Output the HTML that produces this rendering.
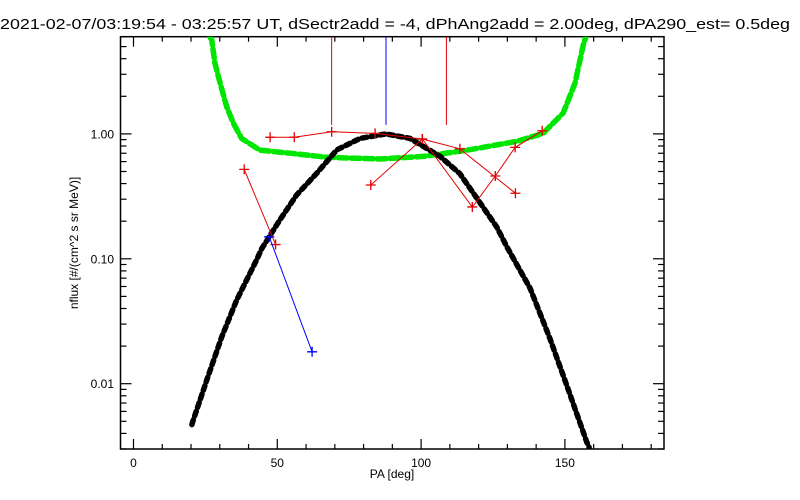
<!DOCTYPE html>
<html><head><meta charset="utf-8"><style>
body{margin:0;background:#fff;}
svg{display:block;font-family:"Liberation Sans",sans-serif;}
</style></head><body>
<svg id="chart" width="800" height="500" xmlns="http://www.w3.org/2000/svg">
<rect width="800" height="500" fill="#fff"/>
<text x="0" y="29" font-size="14.5" textLength="790" lengthAdjust="spacingAndGlyphs">2021-02-07/03:19:54 - 03:25:57 UT, dSectr2add = -4, dPhAng2add = 2.00deg, dPA290_est=   0.5deg</text>
<g id="plot"></g>
<text x="392" y="478" font-size="12" text-anchor="middle">PA [deg]</text>
<text x="78" y="243" font-size="12" text-anchor="middle" transform="rotate(-90 78 243)">nflux [#/(cm^2 s sr MeV)]</text>
</svg>
<script>
const xTicks=[0,50,100,150];
const xTickLabels=["0","50","100","150"];
const yTicks=[1,0.1,0.01];
const yTickLabels=["1.00","0.10","0.01"];
const greenPA=[26.5,27.2,28.3,30.1,32.4,34.7,37.6,44.0,54.4,67.2,85.7,100.8,115.9,133.2,142.4,149.4,153.5,156.4,157.3];
const greenFlux=[6.0,5.67,3.69,2.55,1.65,1.22,0.92,0.74,0.70,0.65,0.63,0.66,0.74,0.87,1.01,1.47,2.55,5.17,6.0];
const blackPA=[20.3,20.6,25.5,30.7,35.9,42.8,44.6,50.9,56.7,63.7,70.7,78.8,87.8,96.1,106.6,113.5,120.5,126.3,129.8,137.9,144.8,151.2,157.6,158.4];
const blackFlux=[0.0047,0.00495,0.0107,0.0238,0.0468,0.098,0.121,0.205,0.324,0.484,0.744,0.92,1.0,0.92,0.66,0.48,0.28,0.18,0.125,0.058,0.023,0.0089,0.0034,0.0031];
const red1PA=[47.5,55.9,68.9,84.0,100.4,113.5,132.8];
const red1Flux=[0.94,0.94,1.04,1.01,0.91,0.76,0.335];
const red2PA=[38.5,49.4];
const red2Flux=[0.52,0.13];
const red3PA=[82.5,100.4,117.8,125.8,132.7,142.1];
const red3Flux=[0.39,0.91,0.26,0.46,0.78,1.06];
const bluePA=[47.2,62.1];
const blueFlux=[0.150,0.018];
const vlinePA=[68.9,87.8,108.8];
const vlineColors=["#e00000","#0000ff","#e00000"];
const vlineTop=1.18;

const L=120.5,R=664,T=36.7,B=449;
const x0=133.5,xs=2.876;
const yMin=0.003,yMax=6;
function X(v){return x0+xs*v;}
function Y(v){return T+(Math.log10(yMax)-Math.log10(v))/(Math.log10(yMax)-Math.log10(yMin))*(B-T);}
const NS="http://www.w3.org/2000/svg";
const g=document.getElementById('plot');
function mk(tag,attrs,parent){const e=document.createElementNS(NS,tag);for(const k in attrs)e.setAttribute(k,attrs[k]);(parent||g).appendChild(e);return e;}
function clamp(v){return Math.max(T,Math.min(B,v));}

// clip
const defs=mk('defs',{});
const cp=mk('clipPath',{id:'clip'},defs);
mk('rect',{x:L,y:T,width:R-L,height:B-T},cp);

// frame
const frame=mk('rect',{x:L,y:T,width:R-L,height:B-T,fill:'none',stroke:'#000','stroke-width':1.5});



// x ticks
for(let v=0;v<=180;v+=10){
  const major=v%50===0;const len=major?10:5;const x=X(v);
  const t1=mk('line',{x1:x,y1:B,x2:x,y2:B-len,stroke:'#000','stroke-width':1.2});
  
  
  const t2=mk('line',{x1:x,y1:T,x2:x,y2:T+len,stroke:'#000','stroke-width':1.2});
  
  
}
xTicks.forEach((v,i)=>{
  const t=mk('text',{x:X(v),y:467,'font-size':12,'text-anchor':'middle'});
  t.textContent=xTickLabels[i];
  
  
});
// y ticks
for(let d=-3;d<=0;d++){for(let m=1;m<=9;m++){
  const v=m*Math.pow(10,d);if(v<yMin||v>yMax)continue;
  const len=m===1?11:6;const y=Y(v);
  const t1=mk('line',{x1:L,y1:y,x2:L+len,y2:y,stroke:'#000','stroke-width':1.2});
  
  
  const t2=mk('line',{x1:R,y1:y,x2:R-len,y2:y,stroke:'#000','stroke-width':1.2});
  
  
}}
yTicks.forEach((v,i)=>{
  const t=mk('text',{x:114,y:Y(v)+4.5,'font-size':12,'text-anchor':'end'});
  t.textContent=yTickLabels[i];
  
  
});

// vertical lines
vlinePA.forEach((v,i)=>{
  const l=mk('line',{x1:X(v),y1:T,x2:X(v),y2:Y(vlineTop),stroke:vlineColors[i],'stroke-width':1});
  
  
});

function pts(xs_,ys_){return xs_.map((v,i)=>X(v).toFixed(1)+','+Y(ys_[i]).toFixed(1)).join(' ');}
const clipG=mk('g',{'clip-path':'url(#clip)'});

const green=mk('polyline',{points:pts(greenPA,greenFlux),fill:'none',stroke:'#00e600','stroke-width':5.5,'stroke-dasharray':'9 4','stroke-linecap':'round'},clipG);



const black=mk('polyline',{points:pts(blackPA,blackFlux),fill:'none',stroke:'#000','stroke-width':5.5,'stroke-dasharray':'5 4','stroke-linecap':'round'},clipG);



function series(xa,ya,color,name){
  const p=mk('polyline',{points:pts(xa,ya),fill:'none',stroke:color,'stroke-width':1},clipG);
  
  
  xa.forEach((v,i)=>{
    const x=X(v),y=Y(ya[i]);
    const c=mk('path',{d:`M${x-5},${y}H${x+5}M${x},${y-5}V${y+5}`,stroke:color,'stroke-width':1.3},clipG);
    
    
  });
}
series(red1PA,red1Flux,'#e00000','red-series-1');
series(red2PA,red2Flux,'#e00000','red-series-2');
series(red3PA,red3Flux,'#e00000','red-series-3');
series(bluePA,blueFlux,'#0000ff','blue-series');
</script>
</body></html>
